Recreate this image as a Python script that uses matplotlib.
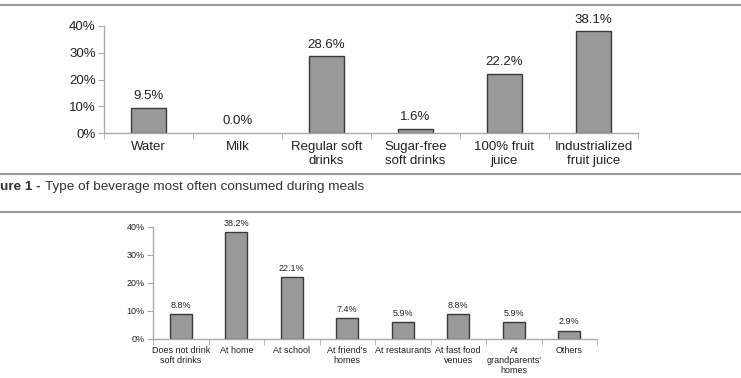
import matplotlib
matplotlib.use('Agg')
import matplotlib.pyplot as plt
from matplotlib.lines import Line2D
import numpy as np

plt.rcParams['font.family'] = ['Liberation Sans', 'DejaVu Sans']

# 图1: 用餐时最常喝的饮料
meal_labels = ['Water', 'Milk', 'Regular soft\ndrinks', 'Sugar-free\nsoft drinks',
               '100% fruit\njuice', 'Industrialized\nfruit juice']
meal_values = [9.5, 0.0, 28.6, 1.6, 22.2, 38.1]

# 图2: 喝汽水的地点
place_labels = ['Does not drink\nsoft drinks', 'At home', 'At school', "At friend's\nhomes",
                'At restaurants', 'At fast food\nvenues', "At\ngrandparents'\nhomes", 'Others']
place_values = [8.8, 38.2, 22.1, 7.4, 5.9, 8.8, 5.9, 2.9]

yticks = [0, 10, 20, 30, 40]

W, H = 741, 378
fig = plt.figure(figsize=(W / 100, H / 100), dpi=100)

bar_color = '#999999'
edge_color = '#3a3a3a'
axis_color = '#aaaaaa'
text_color = '#222222'


def box(x0, y0, x1, y1):
    """像素坐标 -> figure 坐标"""
    return [x0 / W, 1 - y1 / H, (x1 - x0) / W, (y1 - y0) / H]


def draw_bars(ax, labels, values, width, fs, lab_off, pad):
    x = np.arange(len(values))
    # 高度为0的柱子不画边框
    edges = [edge_color if v > 0 else 'none' for v in values]
    ax.bar(x, values, width=width, color=bar_color, edgecolor=edges, linewidth=1.0)
    for xi, v in zip(x, values):
        ax.annotate(f'{v:.1f}%', (xi, v), xytext=(0, lab_off), textcoords='offset points',
                    ha='center', va='bottom', fontsize=fs, color=text_color)
    ax.set_xlim(-0.5, len(values) - 0.5)
    ax.set_ylim(0, 40)
    ax.set_yticks(yticks)
    ax.set_yticklabels([f'{t}%' for t in yticks])
    ax.set_xticks(x)
    ax.set_xticklabels(labels)
    ax.set_xticks(np.arange(len(values) + 1) - 0.5, minor=True)
    ax.tick_params(axis='x', which='major', length=0, pad=pad, labelsize=fs, colors=text_color)
    ax.tick_params(axis='x', which='minor', length=4, color=axis_color)
    ax.tick_params(axis='y', length=4, pad=2, labelsize=fs, colors=text_color, color=axis_color)
    for s in ['top', 'right']:
        ax.spines[s].set_visible(False)
    for s in ['left', 'bottom']:
        ax.spines[s].set_color(axis_color)
        ax.spines[s].set_linewidth(1.0)


ax1 = fig.add_axes(box(104, 26, 638, 133))
draw_bars(ax1, meal_labels, meal_values, 0.39, 9.5, 4, 6)

ax2 = fig.add_axes(box(153, 226.7, 597, 338.7))
draw_bars(ax2, place_labels, place_values, 0.4, 6.5, 3, 5)

# 分隔线
for y in [5, 174, 211.5]:
    fig.add_artist(Line2D([0, 1], [1 - y / H, 1 - y / H], color='#9a9a9a', linewidth=1.5))

# 图注
fig.text(0, 1 - 187 / H, 'ure 1 -', fontsize=9.7, fontweight='bold', color='#333333', va='center')
fig.text(45 / W, 1 - 187 / H, 'Type of beverage most often consumed during meals',
         fontsize=9.7, color='#333333', va='center')

plt.savefig('out.png', dpi=100)
plt.close()
